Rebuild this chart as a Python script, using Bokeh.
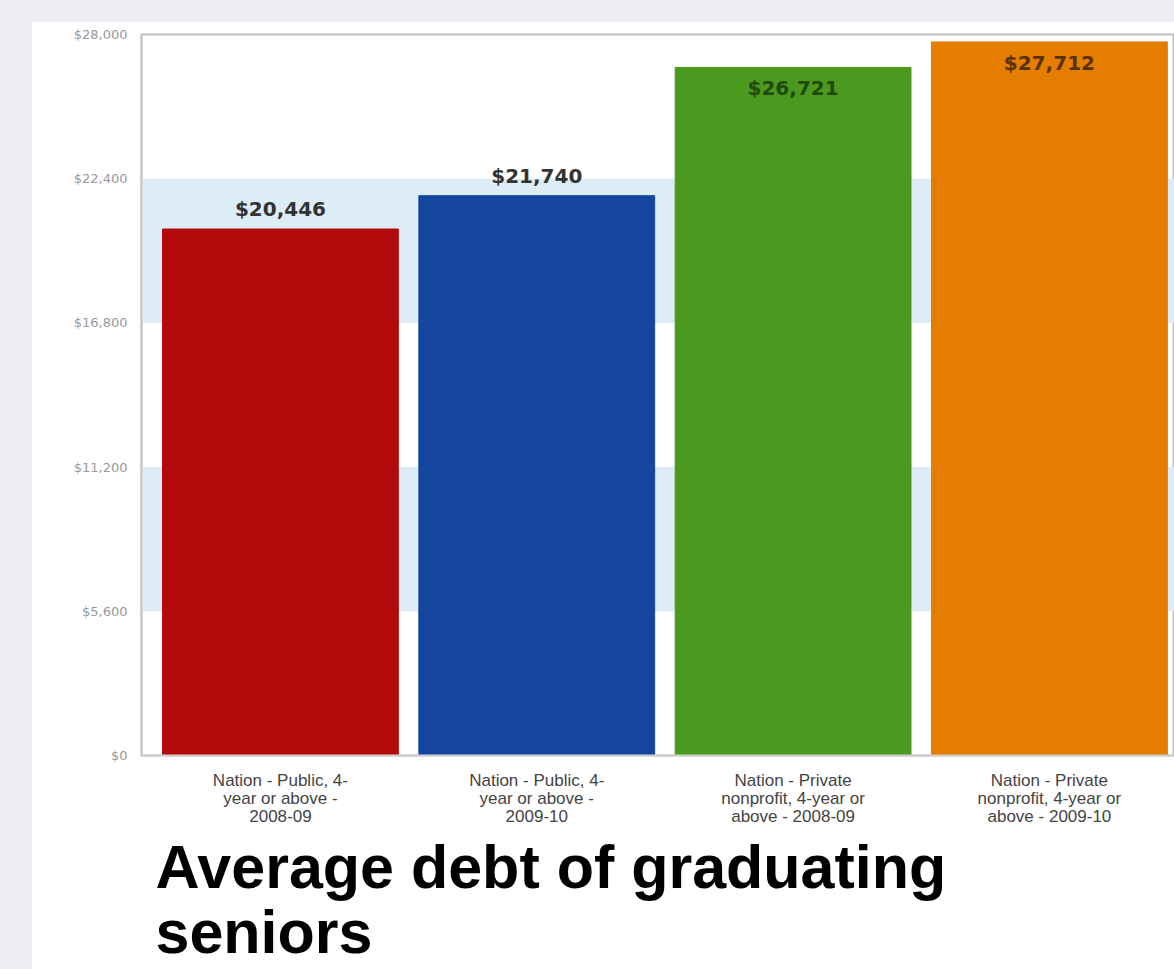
from bokeh.plotting import figure
from bokeh.models import (ColumnDataSource, Range1d, FixedTicker, NumeralTickFormatter,
                          Title, Spacer)
from bokeh.layouts import column, row
from bokeh.core.properties import value
from bokeh.embed import file_html
from bokeh.resources import INLINE

# ---- data ----
categories = [
    "Nation - Public, 4-year or above - 2008-09",
    "Nation - Public, 4-year or above - 2009-10",
    "Nation - Private nonprofit, 4-year or above - 2008-09",
    "Nation - Private nonprofit, 4-year or above - 2009-10",
]
tick_labels = [
    "Nation - Public, 4-\nyear or above -\n2008-09",
    "Nation - Public, 4-\nyear or above -\n2009-10",
    "Nation - Private\nnonprofit, 4-year or\nabove - 2008-09",
    "Nation - Private\nnonprofit, 4-year or\nabove - 2009-10",
]
debt = [20446, 21740, 26721, 27712]
y_ticks = [0, 5600, 11200, 16800, 22400, 28000]
title_text = "Average debt of graduating\nseniors"

# ---- styles ----
bar_colors = ["#b30b0b", "#1446a0", "#4b9a1f", "#e57e00"]
inside_text_colors = {"#4b9a1f": "#1f4a0c", "#e57e00": "#5a3100"}

y_max = y_ticks[-1]
positions = list(range(len(categories)))
inside = [v > 0.9 * y_max for v in debt]
label_offsets = [21 if ins else -20 for ins in inside]
label_colors = [inside_text_colors.get(c, "#333333") if ins else "#333333"
                for c, ins in zip(bar_colors, inside)]

source = ColumnDataSource(dict(
    x=positions,
    debt=debt,
    color=bar_colors,
    label=["${:,}".format(v) for v in debt],
    loff=label_offsets,
    lcol=label_colors,
))

p = figure(
    frame_width=1033, frame_height=721,
    x_range=Range1d(-0.542, 3.488),
    y_range=Range1d(0, y_max),
    output_backend="svg", toolbar_location=None,
    min_border_left=109, min_border_top=12, min_border_right=0, min_border_bottom=0,
    background_fill_color="white", border_fill_color="white",
)

p.vbar(x="x", top="debt", width=0.92, bottom=0, color="color", source=source)

p.text(x="x", y="debt", text="label", y_offset="loff", text_color="lcol",
       text_align="center", text_baseline="middle",
       text_font=value("DejaVu Sans"), text_font_style="bold",
       text_font_size="20px", source=source)

# axes
p.xaxis.ticker = FixedTicker(ticks=positions)
p.xaxis.major_label_overrides = {i: t for i, t in zip(positions, tick_labels)}
p.xaxis.major_label_text_font = "Liberation Sans"
p.xaxis.major_label_text_font_size = "17px"
p.xaxis.major_label_text_color = "#444444"
p.xaxis.major_label_text_line_height = 0.95
p.xaxis.major_label_standoff = 9
p.xaxis.major_tick_line_color = None
p.xaxis.minor_tick_line_color = None
p.xaxis.axis_line_color = "#d0d0d0"
p.xaxis.axis_line_width = 2

p.yaxis.ticker = FixedTicker(ticks=y_ticks)
p.yaxis.formatter = NumeralTickFormatter(format="$0,0")
p.yaxis.major_label_text_font = "DejaVu Sans"
p.yaxis.major_label_text_font_size = "13px"
p.yaxis.major_label_text_color = "#999999"
p.yaxis.major_label_standoff = 8
p.yaxis.major_tick_line_color = None
p.yaxis.minor_tick_line_color = None
p.yaxis.axis_line_color = "#c8c8c8"
p.yaxis.axis_line_width = 2

p.xgrid.grid_line_color = None
p.ygrid.grid_line_color = None
p.ygrid.band_fill_color = "#dcedf5"
p.ygrid.band_fill_alpha = 1.0

p.outline_line_color = "#c0c0c0"
p.outline_line_width = 2

p.add_layout(Title(text=title_text, align="left", offset=14,
                   text_font="Liberation Sans", text_font_size="61px",
                   text_font_style="bold", text_color="#000000",
                   text_line_height=0.95, standoff=5), "below")

bg = {"background-color": "#eceef3"}
layout = column(
    Spacer(width=1174, height=22, styles=bg),
    row(Spacer(width=32, height=947, styles=bg), p),
)

open("out.html", "w").write(file_html(layout, INLINE))
